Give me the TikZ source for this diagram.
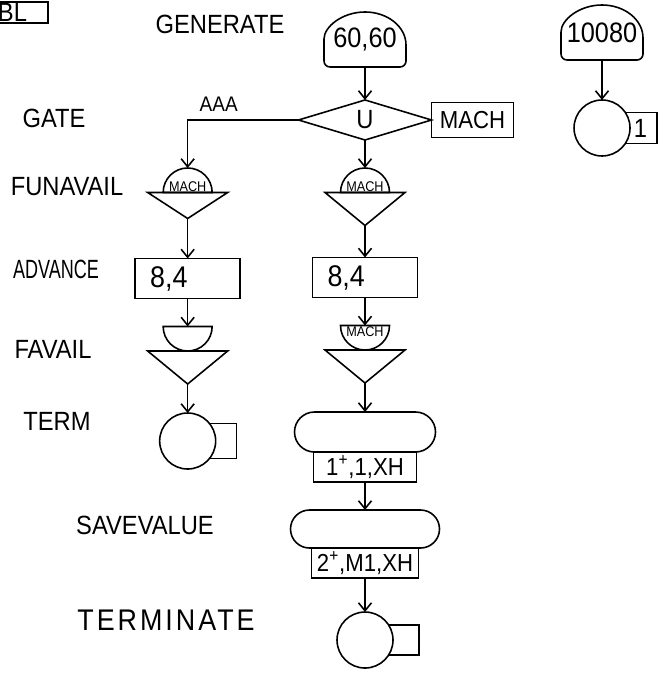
\documentclass[tikz,border=0pt]{standalone}
\usepackage{fontspec}
\setmainfont{Liberation Sans}[FakeStretch=0.9]
\usepackage{graphicx}
\usetikzlibrary{arrows.meta,positioning,shapes.geometric,shapes.misc,backgrounds}

\begin{document}
\begin{tikzpicture}[
  x=0.2mm, y=-0.2mm,
  font=\fontsize{15}{18}\selectfont,
  line width=0.9pt,
  block/.style={draw=black, line width=0.9pt, inner sep=0pt, outer sep=0pt},
  lbl/.style={inner sep=0pt},
  gen/.style={inner sep=0pt, outer sep=0pt, minimum width=16.4mm,
    minimum height=11mm, font=\fontsize{16}{18}\selectfont},
  gatebox/.style={block, diamond, minimum width=26.6mm, minimum height=8mm},
  opbox/.style={block, rectangle, minimum width=16.4mm, minimum height=7mm},
  dome/.style={block, semicircle, minimum width=9.8mm,
    font=\fontsize{8}{9}\selectfont},
  bowl/.style={dome, shape border rotate=180},
  funnel/.style={block, isosceles triangle, shape border rotate=270,
    isosceles triangle stretches, minimum width=16mm, minimum height=6.6mm},
  advbox/.style={block, rectangle, minimum height=8mm, text width=15mm,
    inner xsep=3mm, align=left, font=\fontsize{17}{18}\selectfont},
  savebox/.style={block, rounded rectangle, minimum height=8mm},
  tagbox/.style={block, rectangle, minimum height=6mm,
    font=\fontsize{14}{16}\selectfont},
  term/.style={block, circle, minimum size=11.2mm, fill=white},
  tally/.style={block, rectangle},
  arrow/.style={-{Straight Barb[length=1.6mm, width=2.6mm]}, line width=0.9pt}
]
  \useasboundingbox (0,0) rectangle (662,677);

  % block names on the left
  \node[block, anchor=south east, text width=10mm, inner xsep=0pt,
    inner ysep=0.3mm, align=left] (bl) at (48,23) {BL};
  \node[lbl] (lgenerate) at (220,24) {GENERATE};
  \node[lbl] (lgate) at (54,118) {GATE};
  \node[lbl] (lfunavail) at (67,187) {FUNAVAIL};
  \node[lbl] (ladvance) at (56,269) {\scalebox{0.76}[1]{ADVANCE}};
  \node[lbl] (lfavail) at (53,349) {FAVAIL};
  \node[lbl] (lterm) at (57,421) {TERM};
  \node[lbl] (lsavevalue) at (145,525) {SAVEVALUE};
  \node[lbl, font=\fontsize{17}{18}\selectfont] (lterminate) at (166,620)
    {\addfontfeature{LetterSpace=10}TERMINATE};

  % main segment
  \node[gen] (gen1) at (365,39.5) {60,60};
  \node[gatebox, below=6.6mm of gen1] (gate) {U};
  \node[opbox, right=0mm of gate, font=\fontsize{14}{16}\selectfont] (mach)
    {MACH};
  \node[dome, below=5.6mm of gate.south, anchor=apex] (funMd) {MACH};
  \node[funnel, below=0mm of funMd.chord center] (funMt) {};
  \node[advbox, below=6.4mm of funMt.apex] (advM) {8,4};
  \node[bowl, below=5.6mm of advM, anchor=chord center] (favMd) {MACH};
  \node[funnel, below=0mm of favMd.apex] (favMt) {};
  \node[savebox, minimum width=28.2mm, below=5.8mm of favMt.apex] (svM1) {};
  \node[tagbox, minimum width=20.6mm, below=0mm of svM1] (svM1tag)
    {1\textsuperscript{+},1,XH};
  \node[savebox, minimum width=29.8mm, minimum height=7.6mm,
    below=5.6mm of svM1tag] (svM2) {};
  \node[tagbox, minimum width=21.4mm, below=0mm of svM2] (svM2tag)
    {2\textsuperscript{+},M1,XH};
  \node[term, below=6.8mm of svM2tag] (termM) {};

  % branch AAA
  \node[dome, left=26mm of funMd] (funLd) {MACH};
  \node[funnel, minimum height=5.2mm, below=0mm of funLd.chord center]
    (funLt) {};
  \node[advbox, below=8mm of funLt.apex] (advL) {8,4};
  \node[bowl, below=5.6mm of advL, anchor=chord center] (favLd) {};
  \node[funnel, below=0mm of favLd.apex] (favLt) {};
  \node[term, below=5.8mm of favLt.apex] (termL) {};

  % timer segment
  \node[gen, right=31mm of gen1, yshift=1.4mm] (gen2) {10080};
  \node[term, below=8mm of gen2] (tm1) {};

  \begin{scope}[on background layer]
    \node[tally, right=-1.2mm of tm1, minimum width=6.6mm,
      minimum height=6.2mm] (tm1tag) {1};
    \node[tally, right=-2mm of termL, minimum width=6.2mm,
      minimum height=7mm] (termLtag) {};
    \node[tally, right=-1.2mm of termM, minimum width=6.4mm,
      minimum height=6mm] (termMtag) {};
  \end{scope}

  \foreach \g in {gen1,gen2}
    \draw (\g.south) [rounded corners=1.2mm] -- (\g.south west)
      -- ([yshift=4.4mm]\g.south west) [sharp corners]
      arc[start angle=180, end angle=0, x radius=8.2mm, y radius=6.6mm]
      [rounded corners=1.2mm] -- (\g.south east) -- (\g.south);

  \draw[arrow] (gen1.south) -- (gate.north);
  \draw[arrow] (gen2.south) -- (tm1.north);
  \draw[arrow] (gate.west) -| node[pos=0.36, above=0.3mm,
    font=\fontsize{12}{14}\selectfont] (aaa) {AAA} (funLd.apex);
  \draw[arrow] (gate.south) -- (funMd.apex);
  \draw[arrow] (funLt.apex) -- (advL.north);
  \draw[arrow] (funMt.apex) -- (advM.north);
  \draw[arrow] (advL.south) -- (favLd.chord center);
  \draw[arrow] (advM.south) -- (favMd.chord center);
  \draw[arrow] (favLt.apex) -- (termL.north);
  \draw[arrow] (favMt.apex) -- (svM1.north);
  \draw[arrow] (svM1tag.south) -- (svM2.north);
  \draw[arrow] (svM2tag.south) -- (termM.north);
\end{tikzpicture}
\end{document}
